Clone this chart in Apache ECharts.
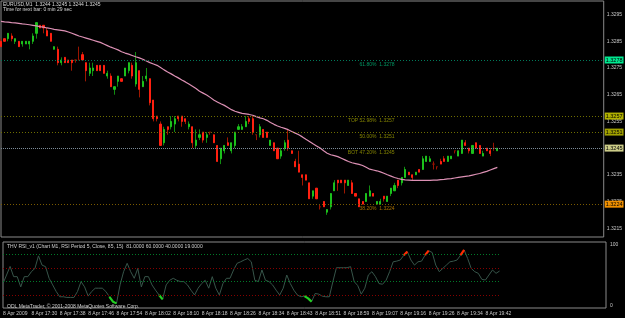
<!DOCTYPE html>
<html><head><meta charset="utf-8">
<script src="https://cdn.jsdelivr.net/npm/echarts@6/dist/echarts.min.js"></script>
<style>html,body{margin:0;padding:0;background:#000;}#c{width:625px;height:318px;}</style>
</head><body><div id="c"></div>
<script>
// ---------- DATA ----------
const open = [
1.3285,1.3286,1.3286,1.3287,1.3285,1.3285,1.3284,1.3284,1.3284,1.3285,
1.3288,1.3291,1.3291,1.3289,1.3288,1.3282,1.3282,1.3277,1.3279,1.3278,
1.3278,1.3278,1.3278,1.3280,1.3277,1.3273,1.3274,1.3276,1.3276,1.3276,
1.3272,1.3272,1.3267,1.3270,1.3271,1.3272,1.3274,1.3276,1.3269,1.3274,
1.3268,1.3271,1.3271,1.3263,1.3257,1.3254,1.3247,1.3253,1.3253,1.3254,
1.3257,1.3257,1.3256,1.3253,1.3253,1.3246,1.3249,1.3251,1.3249,1.3251,
1.3250,1.3246,1.3241,1.3244,1.3247,1.3244,1.3246,1.3252,1.3252,1.3253,
1.3256,1.3256,1.3250,1.3250,1.3252,1.3251,1.3246,1.3247,1.3245,1.3242,
1.3245,1.3248,1.3244,1.3240,1.3239,1.3235,1.3235,1.3232,1.3227,1.3230,
1.3223,1.3225,1.3221,1.3223,1.3229,1.3233,1.3233,1.3233,1.3231,1.3232,
1.3228,1.3226,1.3225,1.3225,1.3227,1.3228,1.3224,1.3224,1.3227,1.3225,
1.3228,1.3229,1.3233,1.3232,1.3234,1.3236,1.3235,1.3235,1.3237,1.3237,
1.3240,1.3240,1.3239,1.3238,1.3240,1.3241,1.3240,1.3241,1.3244,1.3242,
1.3243,1.3247,1.3245,1.3243,1.3247,1.3246,1.3242,1.3245,1.3244,1.3245,
1.3244];
const high = [
1.3286,1.3286,1.3288,1.3288,1.3286,1.3285,1.3285,1.3285,1.3285,1.3288,
1.3292,1.3291,1.3291,1.3290,1.3288,1.3283,1.3283,1.3279,1.3279,1.3278,
1.3278,1.3278,1.3283,1.3281,1.3277,1.3277,1.3277,1.3276,1.3276,1.3276,
1.3274,1.3273,1.3268,1.3272,1.3271,1.3275,1.3277,1.3277,1.3281,1.3274,
1.3272,1.3275,1.3271,1.3263,1.3257,1.3255,1.3253,1.3253,1.3257,1.3257,
1.3257,1.3257,1.3256,1.3255,1.3253,1.3252,1.3252,1.3251,1.3251,1.3251,
1.3250,1.3246,1.3245,1.3246,1.3249,1.3247,1.3251,1.3254,1.3254,1.3257,
1.3257,1.3257,1.3250,1.3254,1.3252,1.3251,1.3248,1.3247,1.3245,1.3245,
1.3248,1.3252,1.3244,1.3241,1.3244,1.3235,1.3235,1.3232,1.3229,1.3230,
1.3224,1.3225,1.3222,1.3228,1.3233,1.3233,1.3233,1.3233,1.3233,1.3233,
1.3228,1.3226,1.3225,1.3228,1.3231,1.3228,1.3225,1.3226,1.3227,1.3227,
1.3230,1.3232,1.3233,1.3234,1.3238,1.3236,1.3235,1.3236,1.3237,1.3242,
1.3242,1.3242,1.3240,1.3238,1.3241,1.3242,1.3242,1.3242,1.3244,1.3244,
1.3248,1.3248,1.3245,1.3246,1.3247,1.3246,1.3244,1.3245,1.3245,1.3247,
1.3245];
const low = [
1.3283,1.3285,1.3285,1.3285,1.3284,1.3283,1.3283,1.3284,1.3282,1.3284,
1.3286,1.3290,1.3288,1.3287,1.3285,1.3282,1.3276,1.3276,1.3277,1.3277,
1.3274,1.3277,1.3278,1.3278,1.3270,1.3272,1.3272,1.3274,1.3274,1.3273,
1.3271,1.3268,1.3265,1.3268,1.3270,1.3272,1.3273,1.3271,1.3268,1.3264,
1.3268,1.3270,1.3261,1.3255,1.3255,1.3246,1.3246,1.3250,1.3252,1.3251,
1.3255,1.3253,1.3254,1.3252,1.3245,1.3245,1.3248,1.3247,1.3247,1.3250,
1.3247,1.3240,1.3239,1.3243,1.3246,1.3243,1.3245,1.3252,1.3252,1.3253,
1.3254,1.3250,1.3248,1.3249,1.3249,1.3249,1.3246,1.3244,1.3241,1.3241,
1.3244,1.3244,1.3243,1.3238,1.3236,1.3231,1.3233,1.3226,1.3226,1.3226,
1.3222,1.3223,1.3220,1.3222,1.3229,1.3229,1.3232,1.3228,1.3231,1.3228,
1.3227,1.3223,1.3224,1.3225,1.3227,1.3227,1.3224,1.3224,1.3225,1.3225,
1.3227,1.3229,1.3230,1.3231,1.3234,1.3235,1.3233,1.3235,1.3236,1.3237,
1.3240,1.3240,1.3237,1.3237,1.3239,1.3240,1.3240,1.3241,1.3243,1.3242,
1.3243,1.3246,1.3243,1.3243,1.3245,1.3243,1.3242,1.3244,1.3242,1.3244,
1.3244];
const close = [
1.3283,1.3285,1.3288,1.3286,1.3286,1.3283,1.3285,1.3285,1.3285,1.3287,
1.3292,1.3290,1.3290,1.3287,1.3285,1.3283,1.3277,1.3278,1.3277,1.3277,
1.3277,1.3278,1.3278,1.3278,1.3274,1.3275,1.3275,1.3274,1.3274,1.3273,
1.3273,1.3268,1.3268,1.3272,1.3270,1.3275,1.3277,1.3272,1.3277,1.3267,
1.3270,1.3272,1.3262,1.3256,1.3256,1.3246,1.3252,1.3252,1.3255,1.3256,
1.3256,1.3255,1.3255,1.3254,1.3247,1.3248,1.3250,1.3248,1.3250,1.3251,
1.3247,1.3240,1.3245,1.3246,1.3246,1.3247,1.3251,1.3253,1.3253,1.3255,
1.3255,1.3251,1.3250,1.3253,1.3249,1.3249,1.3248,1.3244,1.3241,1.3244,
1.3247,1.3245,1.3243,1.3238,1.3236,1.3234,1.3233,1.3226,1.3229,1.3226,
1.3223,1.3223,1.3222,1.3228,1.3232,1.3232,1.3232,1.3232,1.3233,1.3228,
1.3227,1.3223,1.3224,1.3228,1.3229,1.3227,1.3225,1.3225,1.3226,1.3227,
1.3230,1.3231,1.3231,1.3234,1.3237,1.3235,1.3234,1.3236,1.3236,1.3241,
1.3242,1.3241,1.3239,1.3238,1.3239,1.3240,1.3242,1.3242,1.3244,1.3244,
1.3248,1.3246,1.3244,1.3246,1.3245,1.3243,1.3243,1.3244,1.3243,1.3245,
1.3245];
const ma = [
1.32925,1.32923,1.32922,1.32920,1.32919,1.32917,1.32915,1.32914,1.32912,1.32910,
1.32908,1.32905,1.32903,1.32900,1.32898,1.32895,1.32893,1.32891,1.32889,1.32885,
1.32880,1.32875,1.32870,1.32866,1.32862,1.32858,1.32854,1.32850,1.32846,1.32840,
1.32834,1.32828,1.32823,1.32818,1.32811,1.32806,1.32802,1.32797,1.32792,1.32788,
1.32783,1.32776,1.32770,1.32765,1.32760,1.32752,1.32743,1.32735,1.32728,1.32720,
1.32713,1.32705,1.32698,1.32690,1.32682,1.32673,1.32663,1.32656,1.32649,1.32640,
1.32630,1.32623,1.32616,1.32610,1.32602,1.32594,1.32588,1.32584,1.32580,1.32578,
1.32576,1.32573,1.32568,1.32563,1.32560,1.32554,1.32546,1.32539,1.32533,1.32528,
1.32524,1.32519,1.32512,1.32506,1.32500,1.32492,1.32483,1.32475,1.32466,1.32458,
1.32450,1.32440,1.32431,1.32425,1.32422,1.32418,1.32412,1.32406,1.32400,1.32395,
1.32392,1.32389,1.32385,1.32378,1.32371,1.32368,1.32365,1.32361,1.32356,1.32350,
1.32345,1.32340,1.32336,1.32333,1.32331,1.32330,1.32329,1.32329,1.32329,1.32329,
1.32329,1.32329,1.32330,1.32330,1.32332,1.32333,1.32335,1.32336,1.32338,1.32340,
1.32342,1.32344,1.32346,1.32349,1.32352,1.32355,1.32359,1.32363,1.32368,1.32373,
1.32378];
const rsi = [
37,50,63,47.5,47.5,32,47.5,47.5,55,60,
79,65,62.6,45,35,25,17,17,16,16,
16,25,40,32,18,25,30,30,30,25,
17,9.6,7,35,55,67.7,55,45,60,32,
47.5,47.5,35,27,19.7,13,35,42,45,42,
40,40,35,27,19.7,30,37,42,30,47.5,
30,19.7,37,45,45,57.6,67.7,70,72.7,75,
70,42,40,57.6,42,40,35,27,19.7,30,
50,37,27,19.7,17,18,14.6,9.6,22,21,
18,17,17,40,61,61,61,61,62.6,40,
34,21,30,50,55,47.5,37,36,42,55,
70,71,72.7,80,85.4,72.7,65,70,71,80,
87,84,65,55,60,65,70,71,72.7,80,
88,75,60,55,52.5,43.4,42.4,50,57.6,52.5,
56];
const rsiLevels = [81, 60, 40, 19];
const rsiOverbought = 85, rsiOversold = 15;
const priceTicks = [1.3215,1.3225,1.3235,1.3245,1.3255,1.3265,1.3275,1.3285,1.3295];
const timeTickIndex = [0,8,16,24,32,40,48,56,64,72,80,88,96,104,112,120,128,136];
const timeTickText = ['8 Apr 2009','8 Apr 17:30','8 Apr 17:38','8 Apr 17:46','8 Apr 17:54','8 Apr 18:02',
  '8 Apr 18:10','8 Apr 18:18','8 Apr 18:26','8 Apr 18:34','8 Apr 18:43','8 Apr 18:51','8 Apr 18:59',
  '8 Apr 19:07','8 Apr 19:16','8 Apr 19:26','8 Apr 19:34','8 Apr 19:42'];
const fibNames = ['61.80%','TOP 52.98%','50.00%','BOT 47.20%','38.20%'];
const fibPrices = [1.3278,1.3257,1.3251,1.3245,1.3224];
const fibAnchorBar = 111;
const symbolName = 'EURUSD,M1';

// ---------- STYLE ----------
const FONT = '"Liberation Sans", Arial, sans-serif';
const fibLineColor = ['#007a5a','#6e6e00','#6e6e00','rgba(0,0,0,0)','#7a5a00'];
const fibTextColor = ['#00b878','#a0a000','#a0a000','#a0a000','#d08a00'];
const fibBoxColor  = ['#00e890','#b0b000','#a0a000',null,'#f09000'];
const rsiLevelColor = ['#007a28','#860000','#007a28','#860000'];
const SLOTS = 171;

const nBars = open.length, L = nBars - 1;
const slots = Array.from({length: SLOTS}, (_, i) => String(i));
const candleData = open.map((o, i) => [o, close[i], low[i], high[i]]);
const bodyData = open.map((o, i) => [o, close[i], Math.min(o, close[i]), Math.max(o, close[i])]);
const hot = rsi.map((v, i) => (v > rsiOverbought || (i + 1 < nBars && rsi[i + 1] > rsiOverbought)) ? v : null);
const cold = rsi.map((v, i) => (v < rsiOversold || (i + 1 < nBars && rsi[i + 1] < rsiOversold)) ? v : null);
const f4 = v => v.toFixed(4);

function boxLabel(text, bg) {
  return {show: true, position: 'end', distance: 1, formatter: text, backgroundColor: bg,
    color: '#000', fontSize: 5.5, fontFamily: FONT, padding: [1, 1, 0, 1]};
}
const fibMarkLines = fibPrices.map((p, i) => [
  {coord: [0, p], lineStyle: {color: fibLineColor[i], type: [1, 2], width: 1},
    label: fibBoxColor[i] ? boxLabel(f4(p), fibBoxColor[i]) : {show: false}},
  {coord: [SLOTS - 1, p]}
]);
fibMarkLines.push([
  {coord: [0, close[L]], lineStyle: {color: '#7d8c9a', type: [1, 1], width: 1},
    label: boxLabel(f4(close[L]), '#cccc88')},
  {coord: [SLOTS - 1, close[L]]}
]);

const rsiMarkLines = rsiLevels.map((v, i) => [
  {coord: [0, v], lineStyle: {color: rsiLevelColor[i], type: [1, 2], width: 1}},
  {coord: [L, v]}
]);

const chart = echarts.init(document.getElementById('c'), null, {renderer: 'canvas', width: 625, height: 318});
chart.setOption({
  backgroundColor: '#000',
  animation: false,
  textStyle: {fontFamily: FONT},
  grid: [
    {left: 1, right: 19, top: 1, height: 236, show: true, borderColor: '#8a8a8a', borderWidth: 1, backgroundColor: 'transparent'},
    {left: 1, right: 19, top: 242, height: 66, show: true, borderColor: '#8a8a8a', borderWidth: 1, backgroundColor: 'transparent'}
  ],
  xAxis: [
    {gridIndex: 0, type: 'category', data: slots, boundaryGap: false,
      axisLine: {show: false}, axisTick: {show: false}, axisLabel: {show: false}, splitLine: {show: false}},
    {gridIndex: 1, type: 'category', data: slots, boundaryGap: false,
      axisLine: {show: false},
      axisTick: {show: false},
      axisLabel: {show: true, interval: (i) => timeTickIndex.includes(i),
        formatter: (v) => timeTickText[timeTickIndex.indexOf(Number(v))],
        color: '#c8c8c8', fontSize: 5, fontFamily: FONT, align: 'left', margin: 3},
      splitLine: {show: false}}
  ],
  yAxis: [
    {gridIndex: 0, type: 'value', position: 'right', min: 1.32117, max: 1.33001,
      axisLine: {show: false}, axisTick: {show: false}, splitLine: {show: false},
      axisLabel: {customValues: priceTicks, formatter: f4, color: '#c8c8c8', fontSize: 5, fontFamily: FONT, margin: 3}},
    {gridIndex: 1, type: 'value', position: 'right', min: 0, max: 100,
      axisLine: {show: false}, axisTick: {show: false}, splitLine: {show: false},
      axisLabel: {customValues: [0, 100], color: '#c8c8c8', fontSize: 5, fontFamily: FONT, margin: 4,
        verticalAlignMinLabel: 'bottom', verticalAlignMaxLabel: 'top'}}
  ],
  series: [
    {name: 'levels', type: 'line', xAxisIndex: 0, yAxisIndex: 0, data: [], silent: true,
      markLine: {silent: true, symbol: ['none', 'none'], animation: false, data: fibMarkLines}},
    {name: 'wick', type: 'candlestick', xAxisIndex: 0, yAxisIndex: 0, data: candleData, barWidth: 1,
      itemStyle: {color: '#118c11', color0: '#a01800', borderColor: '#118c11', borderColor0: '#a01800',
        borderColorDoji: '#9a1400', borderWidth: 1}, silent: true},
    {name: 'body', type: 'candlestick', xAxisIndex: 0, yAxisIndex: 0, data: bodyData, barWidth: 1.6,
      itemStyle: {color: '#1cc01c', color0: '#ff2010', borderColor: '#1cc01c', borderColor0: '#ff2010',
        borderColorDoji: '#9a1400', borderWidth: 1}, silent: true},
    {name: 'MA', type: 'line', xAxisIndex: 0, yAxisIndex: 0, data: ma, showSymbol: false, silent: true,
      lineStyle: {color: '#dc90b4', width: 1.2}},
    {name: 'fibText', type: 'scatter', xAxisIndex: 0, yAxisIndex: 0, symbolSize: 0, silent: true,
      data: fibPrices.map((p, i) => ({value: [fibAnchorBar, p],
        label: {show: true, color: fibTextColor[i], formatter: fibNames[i] + '  ' + f4(p)}})),
      label: {show: true, position: [0, 2], align: 'right', verticalAlign: 'top', fontSize: 5, fontFamily: FONT}},
    {name: 'RSI', type: 'line', xAxisIndex: 1, yAxisIndex: 1, data: rsi, showSymbol: false, silent: true,
      lineStyle: {color: '#37554a', width: 1},
      markLine: {silent: true, symbol: ['none', 'none'], label: {show: false}, animation: false, data: rsiMarkLines}},
    {name: 'RSIhot', type: 'line', xAxisIndex: 1, yAxisIndex: 1, data: hot, showSymbol: false, silent: true,
      connectNulls: false, lineStyle: {color: '#ff2a00', width: 2.2}},
    {name: 'RSIcold', type: 'line', xAxisIndex: 1, yAxisIndex: 1, data: cold, showSymbol: false, silent: true,
      connectNulls: false, lineStyle: {color: '#22d022', width: 2.2}}
  ],
  graphic: [
    {type: 'text', left: 3, top: 2, silent: true,
      style: {text: symbolName + '  ' + [open[L], high[L], low[L], close[L]].map(f4).join(' '), fill: '#d8d8d8', font: '5px ' + FONT}},
    {type: 'text', left: 3, top: 7, silent: true,
      style: {text: 'Time for next bar: 0 min 29 sec', fill: '#d8d8d8', font: '5px ' + FONT}},
    {type: 'text', left: 7, top: 244.5, silent: true,
      style: {text: 'THV RSI_v1 (Chart M1, RSI Period 5, Close, 85, 15)  81.0000 60.0000 40.0000 19.0000', fill: '#d0d0d0', font: '5px ' + FONT}},
    {type: 'text', left: 7, top: 304, silent: true,
      style: {text: 'ODL MetaTrader, © 2001-2008 MetaQuotes Software Corp.', fill: '#d0d0d0', font: '5px ' + FONT}}
  ]
});
</script></body></html>
